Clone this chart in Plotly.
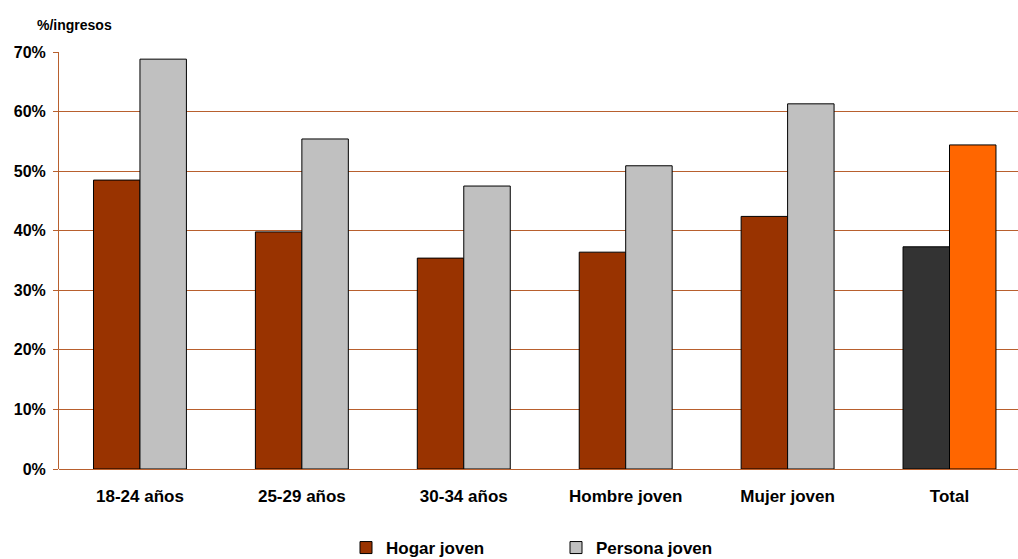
import plotly.graph_objects as go

categories = ["18-24 años", "25-29 años", "30-34 años", "Hombre joven", "Mujer joven", "Total"]
hogar_joven = [48.5, 39.8, 35.4, 36.4, 42.4, 37.3]
persona_joven = [68.8, 55.4, 47.5, 50.9, 61.3, 54.4]
y_ticks = [0, 10, 20, 30, 40, 50, 60, 70]

hogar_colors = ["#993300"] * 5 + ["#333333"]
persona_colors = ["#C0C0C0"] * 5 + ["#FF6600"]

FONT = "Liberation Sans, Arial, sans-serif"
GRID = "#B8602E"

fig = go.Figure()
fig.add_trace(go.Bar(
    name="Hogar joven", x=categories, y=hogar_joven,
    marker=dict(color=hogar_colors, line=dict(color="#000000", width=1)),
))
fig.add_trace(go.Bar(
    name="Persona joven", x=categories, y=persona_joven,
    marker=dict(color=persona_colors, line=dict(color="#000000", width=1)),
))

fig.update_layout(
    width=1018, height=559,
    margin=dict(l=58.5, r=0, t=52, b=90, autoexpand=False),
    paper_bgcolor="white", plot_bgcolor="white",
    barmode="group", bargap=0.426, bargroupgap=0,
    font=dict(family=FONT, size=16, color="#000000"),
    showlegend=True,
    legend=dict(
        orientation="h", xref="container", x=346 / 1018, xanchor="left",
        yref="container", y=(559 - 548) / 559, yanchor="middle",
        font=dict(family=FONT, size=17, color="#000000", weight="bold"),
        entrywidth=165, entrywidthmode="pixels", itemwidth=30,
        traceorder="normal",
    ),
    title=dict(
        text="<b>%/ingresos</b>", x=37 / 1018, xanchor="left",
        y=1 - 25 / 559, yanchor="middle", xref="container", yref="container",
        font=dict(family=FONT, size=14, color="#000000"),
    ),
)
fig.update_xaxes(
    type="category", range=[-0.5, 5.423],
    showgrid=False, showline=False, ticks="",
    tickfont=dict(family=FONT, size=17, color="#000000", weight="bold"),
    ticklabelstandoff=15,
)
fig.update_yaxes(
    range=[0, 70], tickvals=y_ticks, ticktext=[f"{v}%" for v in y_ticks],
    showgrid=True, gridcolor=GRID, gridwidth=1,
    showline=True, linecolor=GRID, linewidth=1,
    ticks="outside", ticklen=5, tickcolor=GRID,
    tickfont=dict(family=FONT, size=16, color="#000000", weight="bold"),
    ticklabelstandoff=4,
    zeroline=True, zerolinecolor=GRID, zerolinewidth=1,
)

fig.write_html("out.html")
